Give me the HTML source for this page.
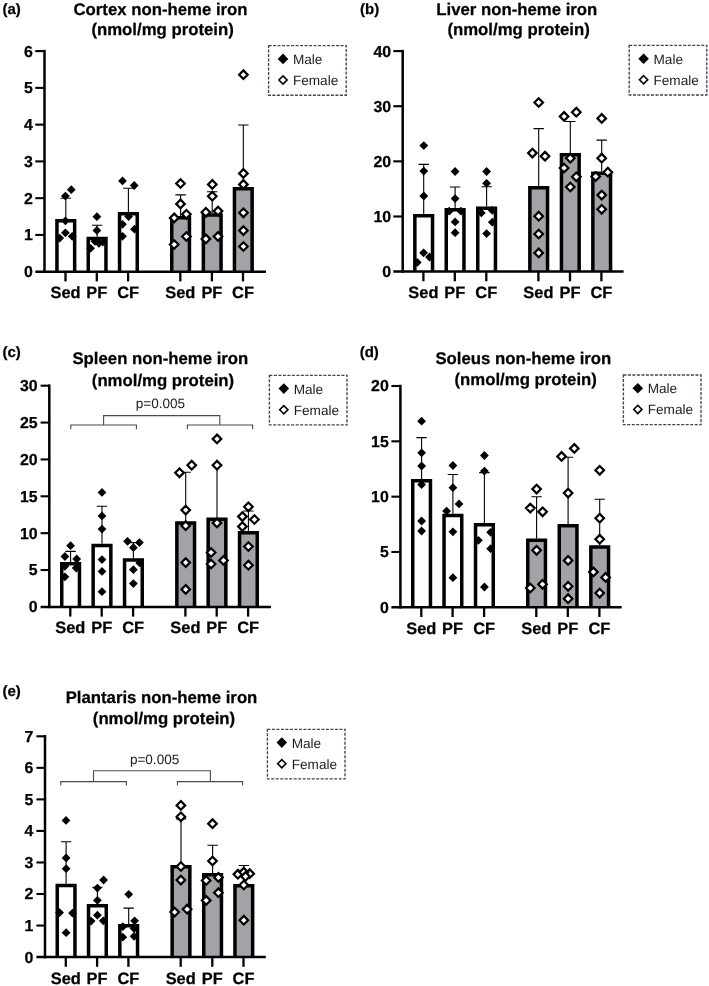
<!DOCTYPE html>
<html><head><meta charset="utf-8"><title>Non-heme iron</title>
<style>
html,body{margin:0;padding:0;background:#fff;}
body{width:709px;height:986px;overflow:hidden;font-family:"Liberation Sans", sans-serif;}
svg{display:block;will-change:transform;}
</style></head><body>
<svg width="709" height="986" viewBox="0 0 709 986" font-family='"Liberation Sans", sans-serif' fill="#000" text-rendering="geometricPrecision">
<rect width="709" height="986" fill="#fff"/>
<g id="panel-a">
<path d="M56.95 271.7V220.75H74.65V271.7" fill="#fff" stroke="#000" stroke-width="3.5" stroke-linejoin="miter"/>
<path d="M88.25 271.7V238.55H105.95V271.7" fill="#fff" stroke="#000" stroke-width="3.5" stroke-linejoin="miter"/>
<path d="M119.55 271.7V213.75H137.25V271.7" fill="#fff" stroke="#000" stroke-width="3.5" stroke-linejoin="miter"/>
<path d="M171.75 271.7V217.75H189.45V271.7" fill="#a3a3a7" stroke="#000" stroke-width="3.5" stroke-linejoin="miter"/>
<path d="M203.35 271.7V214.95H221.05V271.7" fill="#a3a3a7" stroke="#000" stroke-width="3.5" stroke-linejoin="miter"/>
<path d="M234.45 271.7V188.65H252.15V271.7" fill="#a3a3a7" stroke="#000" stroke-width="3.5" stroke-linejoin="miter"/>
<path d="M65.8 219V198.2M60.6 198.2H71" stroke="#000" stroke-width="1.1" fill="none"/>
<path d="M97.1 236.8V225.3M91.9 225.3H102.3" stroke="#000" stroke-width="1.1" fill="none"/>
<path d="M128.4 212V188.3M123.2 188.3H133.6" stroke="#000" stroke-width="1.1" fill="none"/>
<path d="M180.6 216V194.9M175.4 194.9H185.8" stroke="#000" stroke-width="1.1" fill="none"/>
<path d="M212.2 213.2V191.7M207 191.7H217.4" stroke="#000" stroke-width="1.1" fill="none"/>
<path d="M243.3 186.9V125M238.1 125H248.5" stroke="#000" stroke-width="1.1" fill="none"/>
<path d="M44.5 49.85V272.95" stroke="#000" stroke-width="2.5" fill="none"/>
<path d="M35.3 271.7H266" stroke="#000" stroke-width="2.5" fill="none"/>
<text x="32.9" y="277.1" text-anchor="end" font-size="15.9" font-weight="700" stroke="#000" stroke-width="0.25">0</text>
<path d="M35.3 234.93H44.5" stroke="#000" stroke-width="2.1" fill="none"/>
<text x="32.9" y="240.33" text-anchor="end" font-size="15.9" font-weight="700" stroke="#000" stroke-width="0.25">1</text>
<path d="M35.3 198.17H44.5" stroke="#000" stroke-width="2.1" fill="none"/>
<text x="32.9" y="203.57" text-anchor="end" font-size="15.9" font-weight="700" stroke="#000" stroke-width="0.25">2</text>
<path d="M35.3 161.4H44.5" stroke="#000" stroke-width="2.1" fill="none"/>
<text x="32.9" y="166.8" text-anchor="end" font-size="15.9" font-weight="700" stroke="#000" stroke-width="0.25">3</text>
<path d="M35.3 124.63H44.5" stroke="#000" stroke-width="2.1" fill="none"/>
<text x="32.9" y="130.03" text-anchor="end" font-size="15.9" font-weight="700" stroke="#000" stroke-width="0.25">4</text>
<path d="M35.3 87.87H44.5" stroke="#000" stroke-width="2.1" fill="none"/>
<text x="32.9" y="93.27" text-anchor="end" font-size="15.9" font-weight="700" stroke="#000" stroke-width="0.25">5</text>
<path d="M35.3 51.1H44.5" stroke="#000" stroke-width="2.1" fill="none"/>
<text x="32.9" y="56.5" text-anchor="end" font-size="15.9" font-weight="700" stroke="#000" stroke-width="0.25">6</text>
<path d="M65.5 271.7V281.4" stroke="#000" stroke-width="2.3" fill="none"/>
<text x="65.5" y="298.2" text-anchor="middle" font-size="16.4" font-weight="700" stroke="#000" stroke-width="0.25">Sed</text>
<path d="M96.8 271.7V281.4" stroke="#000" stroke-width="2.3" fill="none"/>
<text x="96.8" y="298.2" text-anchor="middle" font-size="16.4" font-weight="700" stroke="#000" stroke-width="0.25">PF</text>
<path d="M128.1 271.7V281.4" stroke="#000" stroke-width="2.3" fill="none"/>
<text x="128.1" y="298.2" text-anchor="middle" font-size="16.4" font-weight="700" stroke="#000" stroke-width="0.25">CF</text>
<path d="M180.3 271.7V281.4" stroke="#000" stroke-width="2.3" fill="none"/>
<text x="180.3" y="298.2" text-anchor="middle" font-size="16.4" font-weight="700" stroke="#000" stroke-width="0.25">Sed</text>
<path d="M211.9 271.7V281.4" stroke="#000" stroke-width="2.3" fill="none"/>
<text x="211.9" y="298.2" text-anchor="middle" font-size="16.4" font-weight="700" stroke="#000" stroke-width="0.25">PF</text>
<path d="M243 271.7V281.4" stroke="#000" stroke-width="2.3" fill="none"/>
<text x="243" y="298.2" text-anchor="middle" font-size="16.4" font-weight="700" stroke="#000" stroke-width="0.25">CF</text>
<path d="M71.3 185.3L75.7 189.7L71.3 194.1L66.9 189.7Z" fill="#000"/>
<path d="M65.4 191.7L69.8 196.1L65.4 200.5L61 196.1Z" fill="#000"/>
<path d="M65.4 216.4L69.8 220.8L65.4 225.2L61 220.8Z" fill="#000"/>
<path d="M59.7 233.7L64.1 238.1L59.7 242.5L55.3 238.1Z" fill="#000"/>
<path d="M65.4 228.4L69.8 232.8L65.4 237.2L61 232.8Z" fill="#000"/>
<path d="M72.2 231.9L76.6 236.3L72.2 240.7L67.8 236.3Z" fill="#000"/>
<path d="M96.9 212.3L101.3 216.7L96.9 221.1L92.5 216.7Z" fill="#000"/>
<path d="M96.9 226L101.3 230.4L96.9 234.8L92.5 230.4Z" fill="#000"/>
<path d="M90.6 243.9L95 248.3L90.6 252.7L86.2 248.3Z" fill="#000"/>
<path d="M95 236.9L99.4 241.3L95 245.7L90.6 241.3Z" fill="#000"/>
<path d="M98.9 238.9L103.3 243.3L98.9 247.7L94.5 243.3Z" fill="#000"/>
<path d="M102.8 237.6L107.2 242L102.8 246.4L98.4 242Z" fill="#000"/>
<path d="M122.5 176.5L126.9 180.9L122.5 185.3L118.1 180.9Z" fill="#000"/>
<path d="M134.2 181.1L138.6 185.5L134.2 189.9L129.8 185.5Z" fill="#000"/>
<path d="M128.6 212.1L133 216.5L128.6 220.9L124.2 216.5Z" fill="#000"/>
<path d="M122.5 219.9L126.9 224.3L122.5 228.7L118.1 224.3Z" fill="#000"/>
<path d="M134.5 224.8L138.9 229.2L134.5 233.6L130.1 229.2Z" fill="#000"/>
<path d="M122.5 231.9L126.9 236.3L122.5 240.7L118.1 236.3Z" fill="#000"/>
<path d="M180.5 179.2L184.8 183.5L180.5 187.8L176.2 183.5Z" fill="#fff" stroke="#000" stroke-width="2.2"/>
<path d="M180.5 199.6L184.8 203.9L180.5 208.2L176.2 203.9Z" fill="#fff" stroke="#000" stroke-width="2.2"/>
<path d="M186.4 210L190.7 214.3L186.4 218.6L182.1 214.3Z" fill="#fff" stroke="#000" stroke-width="2.2"/>
<path d="M174.2 213.6L178.5 217.9L174.2 222.2L169.9 217.9Z" fill="#fff" stroke="#000" stroke-width="2.2"/>
<path d="M186.4 232.2L190.7 236.5L186.4 240.8L182.1 236.5Z" fill="#fff" stroke="#000" stroke-width="2.2"/>
<path d="M174.2 240.2L178.5 244.5L174.2 248.8L169.9 244.5Z" fill="#fff" stroke="#000" stroke-width="2.2"/>
<path d="M212.3 180.1L216.6 184.4L212.3 188.7L208 184.4Z" fill="#fff" stroke="#000" stroke-width="2.2"/>
<path d="M212.3 191.9L216.6 196.2L212.3 200.5L208 196.2Z" fill="#fff" stroke="#000" stroke-width="2.2"/>
<path d="M218 206.8L222.3 211.1L218 215.4L213.7 211.1Z" fill="#fff" stroke="#000" stroke-width="2.2"/>
<path d="M205.9 208L210.2 212.3L205.9 216.6L201.6 212.3Z" fill="#fff" stroke="#000" stroke-width="2.2"/>
<path d="M218 232.1L222.3 236.4L218 240.7L213.7 236.4Z" fill="#fff" stroke="#000" stroke-width="2.2"/>
<path d="M205.9 234.6L210.2 238.9L205.9 243.2L201.6 238.9Z" fill="#fff" stroke="#000" stroke-width="2.2"/>
<path d="M243.4 70.4L247.7 74.7L243.4 79L239.1 74.7Z" fill="#fff" stroke="#000" stroke-width="2.2"/>
<path d="M243.4 169.1L247.7 173.4L243.4 177.7L239.1 173.4Z" fill="#fff" stroke="#000" stroke-width="2.2"/>
<path d="M243.4 180.1L247.7 184.4L243.4 188.7L239.1 184.4Z" fill="#fff" stroke="#000" stroke-width="2.2"/>
<path d="M243.4 208.5L247.7 212.8L243.4 217.1L239.1 212.8Z" fill="#fff" stroke="#000" stroke-width="2.2"/>
<path d="M243.4 226.3L247.7 230.6L243.4 234.9L239.1 230.6Z" fill="#fff" stroke="#000" stroke-width="2.2"/>
<path d="M243.4 242.2L247.7 246.5L243.4 250.8L239.1 246.5Z" fill="#fff" stroke="#000" stroke-width="2.2"/>
<text x="160.5" y="15.1" text-anchor="middle" font-size="16.75" font-weight="700" stroke="#000" stroke-width="0.25">Cortex non-heme iron</text>
<text x="162.6" y="34.8" text-anchor="middle" font-size="16.75" font-weight="700" stroke="#000" stroke-width="0.25">(nmol/mg protein)</text>
<text x="2.4" y="14.2" font-size="15" font-weight="700" stroke="#000" stroke-width="0.25">(a)</text>
<rect x="268.6" y="45.6" width="77.6" height="49.6" fill="#fff" stroke="#3a4460" stroke-width="1.35" stroke-dasharray="3 1.5"/>
<path d="M283 53.6L288.3 58.9L283 64.2L277.7 58.9Z" fill="#000"/>
<path d="M283 75.9L287.1 80L283 84.1L278.9 80Z" fill="#fff" stroke="#000" stroke-width="1.6"/>
<text x="292.9" y="63.9" font-size="13.6" fill="#1c1c1c">Male</text>
<text x="292.9" y="85" font-size="13.6" fill="#1c1c1c">Female</text>
</g>
<g id="panel-b">
<path d="M414.85 271.6V215.65H432.55V271.6" fill="#fff" stroke="#000" stroke-width="3.5" stroke-linejoin="miter"/>
<path d="M446.25 271.6V209.65H463.95V271.6" fill="#fff" stroke="#000" stroke-width="3.5" stroke-linejoin="miter"/>
<path d="M477.75 271.6V208.25H495.45V271.6" fill="#fff" stroke="#000" stroke-width="3.5" stroke-linejoin="miter"/>
<path d="M529.85 271.6V187.85H547.55V271.6" fill="#a3a3a7" stroke="#000" stroke-width="3.5" stroke-linejoin="miter"/>
<path d="M561.45 271.6V154.85H579.15V271.6" fill="#a3a3a7" stroke="#000" stroke-width="3.5" stroke-linejoin="miter"/>
<path d="M592.85 271.6V173.15H610.55V271.6" fill="#a3a3a7" stroke="#000" stroke-width="3.5" stroke-linejoin="miter"/>
<path d="M423.7 213.9V164.4M418.5 164.4H428.9" stroke="#000" stroke-width="1.1" fill="none"/>
<path d="M455.1 207.9V187M449.9 187H460.3" stroke="#000" stroke-width="1.1" fill="none"/>
<path d="M486.6 206.5V186.7M481.4 186.7H491.8" stroke="#000" stroke-width="1.1" fill="none"/>
<path d="M538.7 186.1V128.6M533.5 128.6H543.9" stroke="#000" stroke-width="1.1" fill="none"/>
<path d="M570.3 153.1V121.5M565.1 121.5H575.5" stroke="#000" stroke-width="1.1" fill="none"/>
<path d="M601.7 171.4V140.1M596.5 140.1H606.9" stroke="#000" stroke-width="1.1" fill="none"/>
<path d="M402.7 49.85V272.85" stroke="#000" stroke-width="2.5" fill="none"/>
<path d="M393.3 271.6H623.6" stroke="#000" stroke-width="2.5" fill="none"/>
<text x="391.1" y="277" text-anchor="end" font-size="15.9" font-weight="700" stroke="#000" stroke-width="0.25">0</text>
<path d="M393.3 216.48H402.7" stroke="#000" stroke-width="2.1" fill="none"/>
<text x="391.1" y="221.88" text-anchor="end" font-size="15.9" font-weight="700" stroke="#000" stroke-width="0.25">10</text>
<path d="M393.3 161.35H402.7" stroke="#000" stroke-width="2.1" fill="none"/>
<text x="391.1" y="166.75" text-anchor="end" font-size="15.9" font-weight="700" stroke="#000" stroke-width="0.25">20</text>
<path d="M393.3 106.22H402.7" stroke="#000" stroke-width="2.1" fill="none"/>
<text x="391.1" y="111.62" text-anchor="end" font-size="15.9" font-weight="700" stroke="#000" stroke-width="0.25">30</text>
<path d="M393.3 51.1H402.7" stroke="#000" stroke-width="2.1" fill="none"/>
<text x="391.1" y="56.5" text-anchor="end" font-size="15.9" font-weight="700" stroke="#000" stroke-width="0.25">40</text>
<path d="M423.4 271.6V281.3" stroke="#000" stroke-width="2.3" fill="none"/>
<text x="423.4" y="298.1" text-anchor="middle" font-size="16.4" font-weight="700" stroke="#000" stroke-width="0.25">Sed</text>
<path d="M454.8 271.6V281.3" stroke="#000" stroke-width="2.3" fill="none"/>
<text x="454.8" y="298.1" text-anchor="middle" font-size="16.4" font-weight="700" stroke="#000" stroke-width="0.25">PF</text>
<path d="M486.3 271.6V281.3" stroke="#000" stroke-width="2.3" fill="none"/>
<text x="486.3" y="298.1" text-anchor="middle" font-size="16.4" font-weight="700" stroke="#000" stroke-width="0.25">CF</text>
<path d="M538.4 271.6V281.3" stroke="#000" stroke-width="2.3" fill="none"/>
<text x="538.4" y="298.1" text-anchor="middle" font-size="16.4" font-weight="700" stroke="#000" stroke-width="0.25">Sed</text>
<path d="M570 271.6V281.3" stroke="#000" stroke-width="2.3" fill="none"/>
<text x="570" y="298.1" text-anchor="middle" font-size="16.4" font-weight="700" stroke="#000" stroke-width="0.25">PF</text>
<path d="M601.4 271.6V281.3" stroke="#000" stroke-width="2.3" fill="none"/>
<text x="601.4" y="298.1" text-anchor="middle" font-size="16.4" font-weight="700" stroke="#000" stroke-width="0.25">CF</text>
<path d="M423.8 141.2L428.2 145.6L423.8 150L419.4 145.6Z" fill="#000"/>
<path d="M423.8 166.7L428.2 171.1L423.8 175.5L419.4 171.1Z" fill="#000"/>
<path d="M423.8 191.6L428.2 196L423.8 200.4L419.4 196Z" fill="#000"/>
<path d="M423.6 248.4L428 252.8L423.6 257.2L419.2 252.8Z" fill="#000"/>
<path d="M417.3 258L421.7 262.4L417.3 266.8L412.9 262.4Z" fill="#000"/>
<path d="M429.5 252.6L433.9 257L429.5 261.4L425.1 257Z" fill="#000"/>
<path d="M455.1 167.1L459.5 171.5L455.1 175.9L450.7 171.5Z" fill="#000"/>
<path d="M455.1 194.2L459.5 198.6L455.1 203L450.7 198.6Z" fill="#000"/>
<path d="M449.2 206.8L453.6 211.2L449.2 215.6L444.8 211.2Z" fill="#000"/>
<path d="M461 206.8L465.4 211.2L461 215.6L456.6 211.2Z" fill="#000"/>
<path d="M455.1 217.5L459.5 221.9L455.1 226.3L450.7 221.9Z" fill="#000"/>
<path d="M455.1 228.3L459.5 232.7L455.1 237.1L450.7 232.7Z" fill="#000"/>
<path d="M486.6 167.1L491 171.5L486.6 175.9L482.2 171.5Z" fill="#000"/>
<path d="M486.6 178.9L491 183.3L486.6 187.7L482.2 183.3Z" fill="#000"/>
<path d="M481.3 208.5L485.7 212.9L481.3 217.3L476.9 212.9Z" fill="#000"/>
<path d="M492.3 206L496.7 210.4L492.3 214.8L487.9 210.4Z" fill="#000"/>
<path d="M492.3 217.8L496.7 222.2L492.3 226.6L487.9 222.2Z" fill="#000"/>
<path d="M486.6 229.2L491 233.6L486.6 238L482.2 233.6Z" fill="#000"/>
<path d="M538.7 98.2L543 102.5L538.7 106.8L534.4 102.5Z" fill="#fff" stroke="#000" stroke-width="2.2"/>
<path d="M532.4 148.8L536.7 153.1L532.4 157.4L528.1 153.1Z" fill="#fff" stroke="#000" stroke-width="2.2"/>
<path d="M545 151.9L549.3 156.2L545 160.5L540.7 156.2Z" fill="#fff" stroke="#000" stroke-width="2.2"/>
<path d="M538.7 211.9L543 216.2L538.7 220.5L534.4 216.2Z" fill="#fff" stroke="#000" stroke-width="2.2"/>
<path d="M538.7 229.7L543 234L538.7 238.3L534.4 234Z" fill="#fff" stroke="#000" stroke-width="2.2"/>
<path d="M538.7 248.6L543 252.9L538.7 257.2L534.4 252.9Z" fill="#fff" stroke="#000" stroke-width="2.2"/>
<path d="M564.1 112.1L568.4 116.4L564.1 120.7L559.8 116.4Z" fill="#fff" stroke="#000" stroke-width="2.2"/>
<path d="M576.3 107.9L580.6 112.2L576.3 116.5L572 112.2Z" fill="#fff" stroke="#000" stroke-width="2.2"/>
<path d="M570.3 153.9L574.6 158.2L570.3 162.5L566 158.2Z" fill="#fff" stroke="#000" stroke-width="2.2"/>
<path d="M564.1 163.7L568.4 168L564.1 172.3L559.8 168Z" fill="#fff" stroke="#000" stroke-width="2.2"/>
<path d="M576.3 172.5L580.6 176.8L576.3 181.1L572 176.8Z" fill="#fff" stroke="#000" stroke-width="2.2"/>
<path d="M570.3 182.7L574.6 187L570.3 191.3L566 187Z" fill="#fff" stroke="#000" stroke-width="2.2"/>
<path d="M601.7 114.1L606 118.4L601.7 122.7L597.4 118.4Z" fill="#fff" stroke="#000" stroke-width="2.2"/>
<path d="M601.7 153.9L606 158.2L601.7 162.5L597.4 158.2Z" fill="#fff" stroke="#000" stroke-width="2.2"/>
<path d="M607.8 167.9L612.1 172.2L607.8 176.5L603.5 172.2Z" fill="#fff" stroke="#000" stroke-width="2.2"/>
<path d="M595.7 172.2L600 176.5L595.7 180.8L591.4 176.5Z" fill="#fff" stroke="#000" stroke-width="2.2"/>
<path d="M601.7 190.8L606 195.1L601.7 199.4L597.4 195.1Z" fill="#fff" stroke="#000" stroke-width="2.2"/>
<path d="M601.7 205L606 209.3L601.7 213.6L597.4 209.3Z" fill="#fff" stroke="#000" stroke-width="2.2"/>
<text x="516.8" y="14.8" text-anchor="middle" font-size="16.75" font-weight="700" stroke="#000" stroke-width="0.25">Liver non-heme iron</text>
<text x="518.6" y="34.8" text-anchor="middle" font-size="16.75" font-weight="700" stroke="#000" stroke-width="0.25">(nmol/mg protein)</text>
<text x="360" y="14.2" font-size="15" font-weight="700" stroke="#000" stroke-width="0.25">(b)</text>
<rect x="629.2" y="45.4" width="77.6" height="49.6" fill="#fff" stroke="#3a4460" stroke-width="1.35" stroke-dasharray="3 1.5"/>
<path d="M643.6 53.4L648.9 58.7L643.6 64L638.3 58.7Z" fill="#000"/>
<path d="M643.6 75.7L647.7 79.8L643.6 83.9L639.5 79.8Z" fill="#fff" stroke="#000" stroke-width="1.6"/>
<text x="653.5" y="63.7" font-size="13.6" fill="#1c1c1c">Male</text>
<text x="653.5" y="84.8" font-size="13.6" fill="#1c1c1c">Female</text>
</g>
<g id="panel-c">
<path d="M61.75 606.9V563.75H79.45V606.9" fill="#fff" stroke="#000" stroke-width="3.5" stroke-linejoin="miter"/>
<path d="M93.15 606.9V545.55H110.85V606.9" fill="#fff" stroke="#000" stroke-width="3.5" stroke-linejoin="miter"/>
<path d="M124.55 606.9V559.95H142.25V606.9" fill="#fff" stroke="#000" stroke-width="3.5" stroke-linejoin="miter"/>
<path d="M176.85 606.9V522.95H194.55V606.9" fill="#a3a3a7" stroke="#000" stroke-width="3.5" stroke-linejoin="miter"/>
<path d="M208.15 606.9V519.15H225.85V606.9" fill="#a3a3a7" stroke="#000" stroke-width="3.5" stroke-linejoin="miter"/>
<path d="M239.55 606.9V532.75H257.25V606.9" fill="#a3a3a7" stroke="#000" stroke-width="3.5" stroke-linejoin="miter"/>
<path d="M70.6 562V551.4M65.4 551.4H75.8" stroke="#000" stroke-width="1.1" fill="none"/>
<path d="M102 543.8V506.2M96.8 506.2H107.2" stroke="#000" stroke-width="1.1" fill="none"/>
<path d="M133.4 558.2V542.6M128.2 542.6H138.6" stroke="#000" stroke-width="1.1" fill="none"/>
<path d="M185.7 521.2V472.3M180.5 472.3H190.9" stroke="#000" stroke-width="1.1" fill="none"/>
<path d="M217 517.4V465.2M211.8 465.2H222.2" stroke="#000" stroke-width="1.1" fill="none"/>
<path d="M248.4 531V511M243.2 511H253.6" stroke="#000" stroke-width="1.1" fill="none"/>
<path d="M49.3 384.45V608.15" stroke="#000" stroke-width="2.5" fill="none"/>
<path d="M40.6 606.9H270.9" stroke="#000" stroke-width="2.5" fill="none"/>
<text x="37.7" y="612.3" text-anchor="end" font-size="15.9" font-weight="700" stroke="#000" stroke-width="0.25">0</text>
<path d="M40.6 570.03H49.3" stroke="#000" stroke-width="2.1" fill="none"/>
<text x="37.7" y="575.43" text-anchor="end" font-size="15.9" font-weight="700" stroke="#000" stroke-width="0.25">5</text>
<path d="M40.6 533.17H49.3" stroke="#000" stroke-width="2.1" fill="none"/>
<text x="37.7" y="538.57" text-anchor="end" font-size="15.9" font-weight="700" stroke="#000" stroke-width="0.25">10</text>
<path d="M40.6 496.3H49.3" stroke="#000" stroke-width="2.1" fill="none"/>
<text x="37.7" y="501.7" text-anchor="end" font-size="15.9" font-weight="700" stroke="#000" stroke-width="0.25">15</text>
<path d="M40.6 459.43H49.3" stroke="#000" stroke-width="2.1" fill="none"/>
<text x="37.7" y="464.83" text-anchor="end" font-size="15.9" font-weight="700" stroke="#000" stroke-width="0.25">20</text>
<path d="M40.6 422.57H49.3" stroke="#000" stroke-width="2.1" fill="none"/>
<text x="37.7" y="427.97" text-anchor="end" font-size="15.9" font-weight="700" stroke="#000" stroke-width="0.25">25</text>
<path d="M40.6 385.7H49.3" stroke="#000" stroke-width="2.1" fill="none"/>
<text x="37.7" y="391.1" text-anchor="end" font-size="15.9" font-weight="700" stroke="#000" stroke-width="0.25">30</text>
<path d="M70.3 606.9V616.6" stroke="#000" stroke-width="2.3" fill="none"/>
<text x="70.3" y="633.4" text-anchor="middle" font-size="16.4" font-weight="700" stroke="#000" stroke-width="0.25">Sed</text>
<path d="M101.7 606.9V616.6" stroke="#000" stroke-width="2.3" fill="none"/>
<text x="101.7" y="633.4" text-anchor="middle" font-size="16.4" font-weight="700" stroke="#000" stroke-width="0.25">PF</text>
<path d="M133.1 606.9V616.6" stroke="#000" stroke-width="2.3" fill="none"/>
<text x="133.1" y="633.4" text-anchor="middle" font-size="16.4" font-weight="700" stroke="#000" stroke-width="0.25">CF</text>
<path d="M185.4 606.9V616.6" stroke="#000" stroke-width="2.3" fill="none"/>
<text x="185.4" y="633.4" text-anchor="middle" font-size="16.4" font-weight="700" stroke="#000" stroke-width="0.25">Sed</text>
<path d="M216.7 606.9V616.6" stroke="#000" stroke-width="2.3" fill="none"/>
<text x="216.7" y="633.4" text-anchor="middle" font-size="16.4" font-weight="700" stroke="#000" stroke-width="0.25">PF</text>
<path d="M248.1 606.9V616.6" stroke="#000" stroke-width="2.3" fill="none"/>
<text x="248.1" y="633.4" text-anchor="middle" font-size="16.4" font-weight="700" stroke="#000" stroke-width="0.25">CF</text>
<path d="M70.6 541.3L75 545.7L70.6 550.1L66.2 545.7Z" fill="#000"/>
<path d="M64.9 552.1L69.3 556.5L64.9 560.9L60.5 556.5Z" fill="#000"/>
<path d="M76.7 554.6L81.1 559L76.7 563.4L72.3 559Z" fill="#000"/>
<path d="M64.9 561.9L69.3 566.3L64.9 570.7L60.5 566.3Z" fill="#000"/>
<path d="M76.2 563.6L80.6 568L76.2 572.4L71.8 568Z" fill="#000"/>
<path d="M64.9 572.4L69.3 576.8L64.9 581.2L60.5 576.8Z" fill="#000"/>
<path d="M102 488L106.4 492.4L102 496.8L97.6 492.4Z" fill="#000"/>
<path d="M102 511.5L106.4 515.9L102 520.3L97.6 515.9Z" fill="#000"/>
<path d="M102 524.7L106.4 529.1L102 533.5L97.6 529.1Z" fill="#000"/>
<path d="M102 555.2L106.4 559.6L102 564L97.6 559.6Z" fill="#000"/>
<path d="M102 567L106.4 571.4L102 575.8L97.6 571.4Z" fill="#000"/>
<path d="M102 587.3L106.4 591.7L102 596.1L97.6 591.7Z" fill="#000"/>
<path d="M127.5 536.9L131.9 541.3L127.5 545.7L123.1 541.3Z" fill="#000"/>
<path d="M139.4 538.2L143.8 542.6L139.4 547L135 542.6Z" fill="#000"/>
<path d="M133.4 543.3L137.8 547.7L133.4 552.1L129 547.7Z" fill="#000"/>
<path d="M139.7 558.5L144.1 562.9L139.7 567.3L135.3 562.9Z" fill="#000"/>
<path d="M133.4 565.3L137.8 569.7L133.4 574.1L129 569.7Z" fill="#000"/>
<path d="M133.4 579.2L137.8 583.6L133.4 588L129 583.6Z" fill="#000"/>
<path d="M179.5 468.5L183.8 472.8L179.5 477.1L175.2 472.8Z" fill="#fff" stroke="#000" stroke-width="2.2"/>
<path d="M191.7 460.9L196 465.2L191.7 469.5L187.4 465.2Z" fill="#fff" stroke="#000" stroke-width="2.2"/>
<path d="M185.7 505.8L190 510.1L185.7 514.4L181.4 510.1Z" fill="#fff" stroke="#000" stroke-width="2.2"/>
<path d="M185.7 521.4L190 525.7L185.7 530L181.4 525.7Z" fill="#fff" stroke="#000" stroke-width="2.2"/>
<path d="M185.7 558.3L190 562.6L185.7 566.9L181.4 562.6Z" fill="#fff" stroke="#000" stroke-width="2.2"/>
<path d="M185.7 585.1L190 589.4L185.7 593.7L181.4 589.4Z" fill="#fff" stroke="#000" stroke-width="2.2"/>
<path d="M217 434.6L221.3 438.9L217 443.2L212.7 438.9Z" fill="#fff" stroke="#000" stroke-width="2.2"/>
<path d="M217 460.9L221.3 465.2L217 469.5L212.7 465.2Z" fill="#fff" stroke="#000" stroke-width="2.2"/>
<path d="M217 518.6L221.3 522.9L217 527.2L212.7 522.9Z" fill="#fff" stroke="#000" stroke-width="2.2"/>
<path d="M211.1 548.2L215.4 552.5L211.1 556.8L206.8 552.5Z" fill="#fff" stroke="#000" stroke-width="2.2"/>
<path d="M223.5 556.1L227.8 560.4L223.5 564.7L219.2 560.4Z" fill="#fff" stroke="#000" stroke-width="2.2"/>
<path d="M211.1 559.7L215.4 564L211.1 568.3L206.8 564Z" fill="#fff" stroke="#000" stroke-width="2.2"/>
<path d="M248.4 502.5L252.7 506.8L248.4 511.1L244.1 506.8Z" fill="#fff" stroke="#000" stroke-width="2.2"/>
<path d="M242.4 512.3L246.7 516.6L242.4 520.9L238.1 516.6Z" fill="#fff" stroke="#000" stroke-width="2.2"/>
<path d="M254.4 515.2L258.7 519.5L254.4 523.8L250.1 519.5Z" fill="#fff" stroke="#000" stroke-width="2.2"/>
<path d="M242.4 522.3L246.7 526.6L242.4 530.9L238.1 526.6Z" fill="#fff" stroke="#000" stroke-width="2.2"/>
<path d="M248.4 542.2L252.7 546.5L248.4 550.8L244.1 546.5Z" fill="#fff" stroke="#000" stroke-width="2.2"/>
<path d="M248.4 560.9L252.7 565.2L248.4 569.5L244.1 565.2Z" fill="#fff" stroke="#000" stroke-width="2.2"/>
<text x="160.4" y="364.4" text-anchor="middle" font-size="16.75" font-weight="700" stroke="#000" stroke-width="0.25">Spleen non-heme iron</text>
<text x="163" y="385.5" text-anchor="middle" font-size="16.75" font-weight="700" stroke="#000" stroke-width="0.25">(nmol/mg protein)</text>
<text x="2.4" y="357.1" font-size="15" font-weight="700" stroke="#000" stroke-width="0.25">(c)</text>
<rect x="269.4" y="375.3" width="77.6" height="49.6" fill="#fff" stroke="#3a4460" stroke-width="1.35" stroke-dasharray="3 1.5"/>
<path d="M283.8 383.3L289.1 388.6L283.8 393.9L278.5 388.6Z" fill="#000"/>
<path d="M283.8 405.6L287.9 409.7L283.8 413.8L279.7 409.7Z" fill="#fff" stroke="#000" stroke-width="1.6"/>
<text x="293.7" y="393.6" font-size="13.6" fill="#1c1c1c">Male</text>
<text x="293.7" y="414.7" font-size="13.6" fill="#1c1c1c">Female</text>
<path d="M70.8 429.2V425H136.4V429.2M187.4 429.2V425H252.6V429.2M103.6 425V415.6H219.8V425" stroke="#4a4a4a" stroke-width="1.1" fill="none"/>
<text x="135.7" y="407.9" font-size="13.55" fill="#1c1c1c">p=0.005</text>
</g>
<g id="panel-d">
<path d="M412.75 607.3V480.75H430.45V607.3" fill="#fff" stroke="#000" stroke-width="3.5" stroke-linejoin="miter"/>
<path d="M444.05 607.3V515.45H461.75V607.3" fill="#fff" stroke="#000" stroke-width="3.5" stroke-linejoin="miter"/>
<path d="M475.55 607.3V524.75H493.25V607.3" fill="#fff" stroke="#000" stroke-width="3.5" stroke-linejoin="miter"/>
<path d="M527.75 607.3V540.25H545.45V607.3" fill="#a3a3a7" stroke="#000" stroke-width="3.5" stroke-linejoin="miter"/>
<path d="M559.25 607.3V525.85H576.95V607.3" fill="#a3a3a7" stroke="#000" stroke-width="3.5" stroke-linejoin="miter"/>
<path d="M590.85 607.3V546.95H608.55V607.3" fill="#a3a3a7" stroke="#000" stroke-width="3.5" stroke-linejoin="miter"/>
<path d="M421.6 479V437.6M416.4 437.6H426.8" stroke="#000" stroke-width="1.1" fill="none"/>
<path d="M452.9 513.7V474.5M447.7 474.5H458.1" stroke="#000" stroke-width="1.1" fill="none"/>
<path d="M484.4 523V472.6M479.2 472.6H489.6" stroke="#000" stroke-width="1.1" fill="none"/>
<path d="M536.6 538.5V496.7M531.4 496.7H541.8" stroke="#000" stroke-width="1.1" fill="none"/>
<path d="M568.1 524.1V457.2M562.9 457.2H573.3" stroke="#000" stroke-width="1.1" fill="none"/>
<path d="M599.7 545.2V499.2M594.5 499.2H604.9" stroke="#000" stroke-width="1.1" fill="none"/>
<path d="M400.4 384.75V608.55" stroke="#000" stroke-width="2.5" fill="none"/>
<path d="M391.4 607.3H621.7" stroke="#000" stroke-width="2.5" fill="none"/>
<text x="388.8" y="612.7" text-anchor="end" font-size="15.9" font-weight="700" stroke="#000" stroke-width="0.25">0</text>
<path d="M391.4 551.97H400.4" stroke="#000" stroke-width="2.1" fill="none"/>
<text x="388.8" y="557.37" text-anchor="end" font-size="15.9" font-weight="700" stroke="#000" stroke-width="0.25">5</text>
<path d="M391.4 496.65H400.4" stroke="#000" stroke-width="2.1" fill="none"/>
<text x="388.8" y="502.05" text-anchor="end" font-size="15.9" font-weight="700" stroke="#000" stroke-width="0.25">10</text>
<path d="M391.4 441.32H400.4" stroke="#000" stroke-width="2.1" fill="none"/>
<text x="388.8" y="446.72" text-anchor="end" font-size="15.9" font-weight="700" stroke="#000" stroke-width="0.25">15</text>
<path d="M391.4 386H400.4" stroke="#000" stroke-width="2.1" fill="none"/>
<text x="388.8" y="391.4" text-anchor="end" font-size="15.9" font-weight="700" stroke="#000" stroke-width="0.25">20</text>
<path d="M421.3 607.3V617" stroke="#000" stroke-width="2.3" fill="none"/>
<text x="421.3" y="633.8" text-anchor="middle" font-size="16.4" font-weight="700" stroke="#000" stroke-width="0.25">Sed</text>
<path d="M452.6 607.3V617" stroke="#000" stroke-width="2.3" fill="none"/>
<text x="452.6" y="633.8" text-anchor="middle" font-size="16.4" font-weight="700" stroke="#000" stroke-width="0.25">PF</text>
<path d="M484.1 607.3V617" stroke="#000" stroke-width="2.3" fill="none"/>
<text x="484.1" y="633.8" text-anchor="middle" font-size="16.4" font-weight="700" stroke="#000" stroke-width="0.25">CF</text>
<path d="M536.3 607.3V617" stroke="#000" stroke-width="2.3" fill="none"/>
<text x="536.3" y="633.8" text-anchor="middle" font-size="16.4" font-weight="700" stroke="#000" stroke-width="0.25">Sed</text>
<path d="M567.8 607.3V617" stroke="#000" stroke-width="2.3" fill="none"/>
<text x="567.8" y="633.8" text-anchor="middle" font-size="16.4" font-weight="700" stroke="#000" stroke-width="0.25">PF</text>
<path d="M599.4 607.3V617" stroke="#000" stroke-width="2.3" fill="none"/>
<text x="599.4" y="633.8" text-anchor="middle" font-size="16.4" font-weight="700" stroke="#000" stroke-width="0.25">CF</text>
<path d="M421.6 416.8L426 421.2L421.6 425.6L417.2 421.2Z" fill="#000"/>
<path d="M421.6 448.4L426 452.8L421.6 457.2L417.2 452.8Z" fill="#000"/>
<path d="M421.6 461.6L426 466L421.6 470.4L417.2 466Z" fill="#000"/>
<path d="M421.6 480.2L426 484.6L421.6 489L417.2 484.6Z" fill="#000"/>
<path d="M421.6 516.6L426 521L421.6 525.4L417.2 521Z" fill="#000"/>
<path d="M421.6 526.6L426 531L421.6 535.4L417.2 531Z" fill="#000"/>
<path d="M452.9 461.1L457.3 465.5L452.9 469.9L448.5 465.5Z" fill="#000"/>
<path d="M452.9 483.3L457.3 487.7L452.9 492.1L448.5 487.7Z" fill="#000"/>
<path d="M459 499.5L463.4 503.9L459 508.3L454.6 503.9Z" fill="#000"/>
<path d="M446.6 506.7L451 511.1L446.6 515.5L442.2 511.1Z" fill="#000"/>
<path d="M452.9 527.4L457.3 531.8L452.9 536.2L448.5 531.8Z" fill="#000"/>
<path d="M452.9 573.3L457.3 577.7L452.9 582.1L448.5 577.7Z" fill="#000"/>
<path d="M484.4 451.1L488.8 455.5L484.4 459.9L480 455.5Z" fill="#000"/>
<path d="M484.4 466.7L488.8 471.1L484.4 475.5L480 471.1Z" fill="#000"/>
<path d="M490.6 527.9L495 532.3L490.6 536.7L486.2 532.3Z" fill="#000"/>
<path d="M478.4 535.9L482.8 540.3L478.4 544.7L474 540.3Z" fill="#000"/>
<path d="M490.6 544.3L495 548.7L490.6 553.1L486.2 548.7Z" fill="#000"/>
<path d="M484.4 582.6L488.8 587L484.4 591.4L480 587Z" fill="#000"/>
<path d="M536.6 484.8L540.9 489.1L536.6 493.4L532.3 489.1Z" fill="#fff" stroke="#000" stroke-width="2.2"/>
<path d="M530.3 503.8L534.6 508.1L530.3 512.4L526 508.1Z" fill="#fff" stroke="#000" stroke-width="2.2"/>
<path d="M542.6 507.5L546.9 511.8L542.6 516.1L538.3 511.8Z" fill="#fff" stroke="#000" stroke-width="2.2"/>
<path d="M536.6 546L540.9 550.3L536.6 554.6L532.3 550.3Z" fill="#fff" stroke="#000" stroke-width="2.2"/>
<path d="M542.5 580L546.8 584.3L542.5 588.6L538.2 584.3Z" fill="#fff" stroke="#000" stroke-width="2.2"/>
<path d="M530.3 583.7L534.6 588L530.3 592.3L526 588Z" fill="#fff" stroke="#000" stroke-width="2.2"/>
<path d="M561.6 452.1L565.9 456.4L561.6 460.7L557.3 456.4Z" fill="#fff" stroke="#000" stroke-width="2.2"/>
<path d="M574.3 444.1L578.6 448.4L574.3 452.7L570 448.4Z" fill="#fff" stroke="#000" stroke-width="2.2"/>
<path d="M568.1 488.8L572.4 493.1L568.1 497.4L563.8 493.1Z" fill="#fff" stroke="#000" stroke-width="2.2"/>
<path d="M568.1 556.1L572.4 560.4L568.1 564.7L563.8 560.4Z" fill="#fff" stroke="#000" stroke-width="2.2"/>
<path d="M568.1 582L572.4 586.3L568.1 590.6L563.8 586.3Z" fill="#fff" stroke="#000" stroke-width="2.2"/>
<path d="M568.1 594.4L572.4 598.7L568.1 603L563.8 598.7Z" fill="#fff" stroke="#000" stroke-width="2.2"/>
<path d="M599.7 466L604 470.3L599.7 474.6L595.4 470.3Z" fill="#fff" stroke="#000" stroke-width="2.2"/>
<path d="M599.7 513.9L604 518.2L599.7 522.5L595.4 518.2Z" fill="#fff" stroke="#000" stroke-width="2.2"/>
<path d="M599.7 534.9L604 539.2L599.7 543.5L595.4 539.2Z" fill="#fff" stroke="#000" stroke-width="2.2"/>
<path d="M593.4 567.6L597.7 571.9L593.4 576.2L589.1 571.9Z" fill="#fff" stroke="#000" stroke-width="2.2"/>
<path d="M605.6 573.1L609.9 577.4L605.6 581.7L601.3 577.4Z" fill="#fff" stroke="#000" stroke-width="2.2"/>
<path d="M599.7 588.8L604 593.1L599.7 597.4L595.4 593.1Z" fill="#fff" stroke="#000" stroke-width="2.2"/>
<text x="523.4" y="364.4" text-anchor="middle" font-size="16.75" font-weight="700" stroke="#000" stroke-width="0.25">Soleus non-heme iron</text>
<text x="525.7" y="385.4" text-anchor="middle" font-size="16.75" font-weight="700" stroke="#000" stroke-width="0.25">(nmol/mg protein)</text>
<text x="359.7" y="357.1" font-size="15" font-weight="700" stroke="#000" stroke-width="0.25">(d)</text>
<rect x="623.4" y="375" width="77.6" height="49.6" fill="#fff" stroke="#3a4460" stroke-width="1.35" stroke-dasharray="3 1.5"/>
<path d="M637.8 383L643.1 388.3L637.8 393.6L632.5 388.3Z" fill="#000"/>
<path d="M637.8 405.3L641.9 409.4L637.8 413.5L633.7 409.4Z" fill="#fff" stroke="#000" stroke-width="1.6"/>
<text x="647.7" y="393.3" font-size="13.6" fill="#1c1c1c">Male</text>
<text x="647.7" y="414.4" font-size="13.6" fill="#1c1c1c">Female</text>
</g>
<g id="panel-e">
<path d="M57.25 957.1V885.55H74.95V957.1" fill="#fff" stroke="#000" stroke-width="3.5" stroke-linejoin="miter"/>
<path d="M88.55 957.1V905.75H106.25V957.1" fill="#fff" stroke="#000" stroke-width="3.5" stroke-linejoin="miter"/>
<path d="M119.85 957.1V925.75H137.55V957.1" fill="#fff" stroke="#000" stroke-width="3.5" stroke-linejoin="miter"/>
<path d="M172.15 957.1V866.85H189.85V957.1" fill="#a3a3a7" stroke="#000" stroke-width="3.5" stroke-linejoin="miter"/>
<path d="M203.75 957.1V874.75H221.45V957.1" fill="#a3a3a7" stroke="#000" stroke-width="3.5" stroke-linejoin="miter"/>
<path d="M234.95 957.1V885.65H252.65V957.1" fill="#a3a3a7" stroke="#000" stroke-width="3.5" stroke-linejoin="miter"/>
<path d="M66.1 883.8V841.8M60.9 841.8H71.3" stroke="#000" stroke-width="1.1" fill="none"/>
<path d="M97.4 904V887.2M92.2 887.2H102.6" stroke="#000" stroke-width="1.1" fill="none"/>
<path d="M128.7 924V908.1M123.5 908.1H133.9" stroke="#000" stroke-width="1.1" fill="none"/>
<path d="M181 865.1V818.9M175.8 818.9H186.2" stroke="#000" stroke-width="1.1" fill="none"/>
<path d="M212.6 873V845.3M207.4 845.3H217.8" stroke="#000" stroke-width="1.1" fill="none"/>
<path d="M243.8 883.9V865.5M238.6 865.5H249" stroke="#000" stroke-width="1.1" fill="none"/>
<path d="M45 735.05V958.35" stroke="#000" stroke-width="2.5" fill="none"/>
<path d="M36.4 957.1H265.8" stroke="#000" stroke-width="2.5" fill="none"/>
<text x="33.4" y="962.5" text-anchor="end" font-size="15.9" font-weight="700" stroke="#000" stroke-width="0.25">0</text>
<path d="M36.4 925.56H45" stroke="#000" stroke-width="2.1" fill="none"/>
<text x="33.4" y="930.96" text-anchor="end" font-size="15.9" font-weight="700" stroke="#000" stroke-width="0.25">1</text>
<path d="M36.4 894.01H45" stroke="#000" stroke-width="2.1" fill="none"/>
<text x="33.4" y="899.41" text-anchor="end" font-size="15.9" font-weight="700" stroke="#000" stroke-width="0.25">2</text>
<path d="M36.4 862.47H45" stroke="#000" stroke-width="2.1" fill="none"/>
<text x="33.4" y="867.87" text-anchor="end" font-size="15.9" font-weight="700" stroke="#000" stroke-width="0.25">3</text>
<path d="M36.4 830.93H45" stroke="#000" stroke-width="2.1" fill="none"/>
<text x="33.4" y="836.33" text-anchor="end" font-size="15.9" font-weight="700" stroke="#000" stroke-width="0.25">4</text>
<path d="M36.4 799.39H45" stroke="#000" stroke-width="2.1" fill="none"/>
<text x="33.4" y="804.79" text-anchor="end" font-size="15.9" font-weight="700" stroke="#000" stroke-width="0.25">5</text>
<path d="M36.4 767.84H45" stroke="#000" stroke-width="2.1" fill="none"/>
<text x="33.4" y="773.24" text-anchor="end" font-size="15.9" font-weight="700" stroke="#000" stroke-width="0.25">6</text>
<path d="M36.4 736.3H45" stroke="#000" stroke-width="2.1" fill="none"/>
<text x="33.4" y="741.7" text-anchor="end" font-size="15.9" font-weight="700" stroke="#000" stroke-width="0.25">7</text>
<path d="M65.8 957.1V966.8" stroke="#000" stroke-width="2.3" fill="none"/>
<text x="65.8" y="983.6" text-anchor="middle" font-size="16.4" font-weight="700" stroke="#000" stroke-width="0.25">Sed</text>
<path d="M97.1 957.1V966.8" stroke="#000" stroke-width="2.3" fill="none"/>
<text x="97.1" y="983.6" text-anchor="middle" font-size="16.4" font-weight="700" stroke="#000" stroke-width="0.25">PF</text>
<path d="M128.4 957.1V966.8" stroke="#000" stroke-width="2.3" fill="none"/>
<text x="128.4" y="983.6" text-anchor="middle" font-size="16.4" font-weight="700" stroke="#000" stroke-width="0.25">CF</text>
<path d="M180.7 957.1V966.8" stroke="#000" stroke-width="2.3" fill="none"/>
<text x="180.7" y="983.6" text-anchor="middle" font-size="16.4" font-weight="700" stroke="#000" stroke-width="0.25">Sed</text>
<path d="M212.3 957.1V966.8" stroke="#000" stroke-width="2.3" fill="none"/>
<text x="212.3" y="983.6" text-anchor="middle" font-size="16.4" font-weight="700" stroke="#000" stroke-width="0.25">PF</text>
<path d="M243.5 957.1V966.8" stroke="#000" stroke-width="2.3" fill="none"/>
<text x="243.5" y="983.6" text-anchor="middle" font-size="16.4" font-weight="700" stroke="#000" stroke-width="0.25">CF</text>
<path d="M66 816L70.4 820.4L66 824.8L61.6 820.4Z" fill="#000"/>
<path d="M66.1 853.6L70.5 858L66.1 862.4L61.7 858Z" fill="#000"/>
<path d="M66.1 864.3L70.5 868.7L66.1 873.1L61.7 868.7Z" fill="#000"/>
<path d="M59.6 908.2L64 912.6L59.6 917L55.2 912.6Z" fill="#000"/>
<path d="M72.5 908.7L76.9 913.1L72.5 917.5L68.1 913.1Z" fill="#000"/>
<path d="M66.1 928.3L70.5 932.7L66.1 937.1L61.7 932.7Z" fill="#000"/>
<path d="M103.6 875.6L108 880L103.6 884.4L99.2 880Z" fill="#000"/>
<path d="M97.4 883.7L101.8 888.1L97.4 892.5L93 888.1Z" fill="#000"/>
<path d="M97.4 895.9L101.8 900.3L97.4 904.7L93 900.3Z" fill="#000"/>
<path d="M97.4 910.8L101.8 915.2L97.4 919.6L93 915.2Z" fill="#000"/>
<path d="M91.1 916.7L95.5 921.1L91.1 925.5L86.7 921.1Z" fill="#000"/>
<path d="M103.3 916.4L107.7 920.8L103.3 925.2L98.9 920.8Z" fill="#000"/>
<path d="M128.7 889.9L133.1 894.3L128.7 898.7L124.3 894.3Z" fill="#000"/>
<path d="M134.6 916.4L139 920.8L134.6 925.2L130.2 920.8Z" fill="#000"/>
<path d="M122.8 922.3L127.2 926.7L122.8 931.1L118.4 926.7Z" fill="#000"/>
<path d="M134.1 924.1L138.5 928.5L134.1 932.9L129.7 928.5Z" fill="#000"/>
<path d="M122.8 932.8L127.2 937.2L122.8 941.6L118.4 937.2Z" fill="#000"/>
<path d="M134.1 931.9L138.5 936.3L134.1 940.7L129.7 936.3Z" fill="#000"/>
<path d="M180.9 801.1L185.2 805.4L180.9 809.7L176.6 805.4Z" fill="#fff" stroke="#000" stroke-width="2.2"/>
<path d="M180.9 812.5L185.2 816.8L180.9 821.1L176.6 816.8Z" fill="#fff" stroke="#000" stroke-width="2.2"/>
<path d="M180.9 862.2L185.2 866.5L180.9 870.8L176.6 866.5Z" fill="#fff" stroke="#000" stroke-width="2.2"/>
<path d="M180.9 875.8L185.2 880.1L180.9 884.4L176.6 880.1Z" fill="#fff" stroke="#000" stroke-width="2.2"/>
<path d="M187.1 904.9L191.4 909.2L187.1 913.5L182.8 909.2Z" fill="#fff" stroke="#000" stroke-width="2.2"/>
<path d="M174.7 907.8L179 912.1L174.7 916.4L170.4 912.1Z" fill="#fff" stroke="#000" stroke-width="2.2"/>
<path d="M212.5 819.4L216.8 823.7L212.5 828L208.2 823.7Z" fill="#fff" stroke="#000" stroke-width="2.2"/>
<path d="M212.5 856.7L216.8 861L212.5 865.3L208.2 861Z" fill="#fff" stroke="#000" stroke-width="2.2"/>
<path d="M218.4 873.1L222.7 877.4L218.4 881.7L214.1 877.4Z" fill="#fff" stroke="#000" stroke-width="2.2"/>
<path d="M206.2 876.2L210.5 880.5L206.2 884.8L201.9 880.5Z" fill="#fff" stroke="#000" stroke-width="2.2"/>
<path d="M218.4 888.4L222.7 892.7L218.4 897L214.1 892.7Z" fill="#fff" stroke="#000" stroke-width="2.2"/>
<path d="M206.2 896.1L210.5 900.4L206.2 904.7L201.9 900.4Z" fill="#fff" stroke="#000" stroke-width="2.2"/>
<path d="M237.9 869.9L242.2 874.2L237.9 878.5L233.6 874.2Z" fill="#fff" stroke="#000" stroke-width="2.2"/>
<path d="M249.7 869.4L254 873.7L249.7 878L245.4 873.7Z" fill="#fff" stroke="#000" stroke-width="2.2"/>
<path d="M243.8 867.9L248.1 872.2L243.8 876.5L239.5 872.2Z" fill="#fff" stroke="#000" stroke-width="2.2"/>
<path d="M245.5 872.1L249.8 876.4L245.5 880.7L241.2 876.4Z" fill="#fff" stroke="#000" stroke-width="2.2"/>
<path d="M243.8 880.7L248.1 885L243.8 889.3L239.5 885Z" fill="#fff" stroke="#000" stroke-width="2.2"/>
<path d="M243.8 915.9L248.1 920.2L243.8 924.5L239.5 920.2Z" fill="#fff" stroke="#000" stroke-width="2.2"/>
<text x="161.5" y="703.3" text-anchor="middle" font-size="16.75" font-weight="700" stroke="#000" stroke-width="0.25">Plantaris non-heme iron</text>
<text x="164" y="724" text-anchor="middle" font-size="16.75" font-weight="700" stroke="#000" stroke-width="0.25">(nmol/mg protein)</text>
<text x="2.4" y="696.1" font-size="15" font-weight="700" stroke="#000" stroke-width="0.25">(e)</text>
<rect x="267.4" y="729.3" width="77.6" height="49.6" fill="#fff" stroke="#3a4460" stroke-width="1.35" stroke-dasharray="3 1.5"/>
<path d="M281.8 737.3L287.1 742.6L281.8 747.9L276.5 742.6Z" fill="#000"/>
<path d="M281.8 759.6L285.9 763.7L281.8 767.8L277.7 763.7Z" fill="#fff" stroke="#000" stroke-width="1.6"/>
<text x="291.7" y="747.6" font-size="13.6" fill="#1c1c1c">Male</text>
<text x="291.7" y="768.7" font-size="13.6" fill="#1c1c1c">Female</text>
<path d="M60.8 785.4V781.6H126.4V785.4M177.4 785.4V781.6H242.6V785.4M93.5 781.6V770.8H210.4V781.6" stroke="#4a4a4a" stroke-width="1.1" fill="none"/>
<text x="129.9" y="763.8" font-size="13.55" fill="#1c1c1c">p=0.005</text>
</g>
</svg>
</body></html>
